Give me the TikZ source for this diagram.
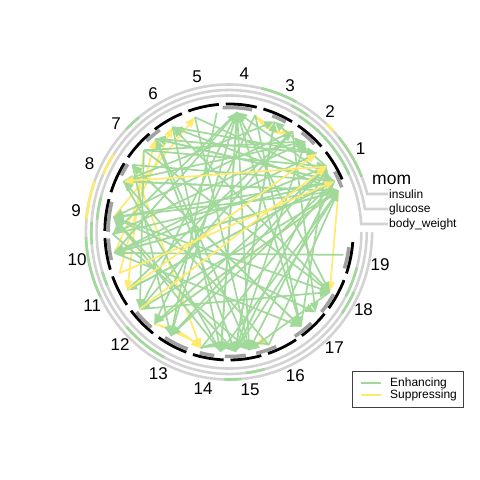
\documentclass[tikz,border=0pt]{standalone}
\usepackage{fontspec}
\setmainfont{Liberation Sans}
\usetikzlibrary{arrows.meta}
\definecolor{enhgreen}{RGB}{161,217,155}
\definecolor{supyellow}{RGB}{255,234,110}
\definecolor{ringgray}{RGB}{211,211,211}
\definecolor{bandgray}{RGB}{160,160,160}

\begin{document}
\begin{tikzpicture}[x=1pt,y=1pt]
\tikzset{enh/.style = {-{Triangle[length=10pt,width=8pt]}, draw=enhgreen, fill=enhgreen, line width=1.7pt}}
\tikzset{sup/.style = {-{Triangle[length=10pt,width=8pt]}, draw=supyellow, fill=supyellow, line width=1.7pt}}
\tikzset{ring/.style = {draw=ringgray, line width=2.6pt}}
\tikzset{chrom/.style = {draw=black, line width=2.8pt}}
\tikzset{chrlab/.style = {font=\fontsize{17}{20}\selectfont}}
\tikzset{trait/.style = {anchor=west, inner sep=1pt, font=\fontsize{12}{14}\selectfont}}

\useasboundingbox (0,0) rectangle (480,480);

\node[anchor=west, inner sep=1pt, font=\fontsize{17.5}{20}\selectfont] (mom) at (371,300) {mom};
\node[trait] (insLab) at (388,286) {insulin};
\node[trait] (gluLab) at (388,271) {glucose};
\node[trait] (bwLab) at (388,256) {body\_weight};

\begin{scope}[shift={(229,248)}, xscale=0.97]
% trait rings
\draw[ring] (360:147.5) arc[start angle=360, end angle=14.93, radius=147.5] -- (insLab.west);
\draw[ring] (360:142) arc[start angle=360, end angle=9.32, radius=142] -- (gluLab.west);
\draw[ring] (360:136.5) arc[start angle=360, end angle=3.36, radius=136.5] -- (bwLab.west);

\foreach \r/\a/\b/\c in {147.5/62/77/enhgreen, 147.5/43/47/supyellow, 147.5/22/40/enhgreen,
  147.5/129/136/enhgreen, 147.5/160/175/supyellow, 147.5/182/206/enhgreen, 147.5/268/275/enhgreen,
  142/55/63/enhgreen, 142/147/156/supyellow, 142/176/185/enhgreen, 142/222/242/enhgreen,
  142/277/285/enhgreen, 142/325/335/enhgreen,
  136.5/25/58/enhgreen, 136.5/165/175/enhgreen, 136.5/197/203/enhgreen, 136.5/332/345/enhgreen}
  {\draw[line width=2.6pt, draw=\c] (\a:\r) arc[start angle=\a, end angle=\b, radius=\r];}

% chromosomes
\foreach \a/\b in {21/29, 45/53, 62/69, 79/93, 125/133, 147/153, 166/180, 183/193, 220/230,
  238/250, 256/263, 268/278, 283/293, 303/313, 320/330, 343/353}
  {\draw[draw=bandgray, line width=3.5pt] (\a:124.5) arc[start angle=\a, end angle=\b, radius=124.5];}

\foreach \i in {1,...,19} {
  \pgfmathsetmacro{\t}{31.5+(\i-1)*17.6}
  \draw[chrom] ({\t-7.2}:128) arc[start angle=\t-7.2, end angle=\t+7.2, radius=128];
  \node[chrlab] (c\i) at (\t:159) {\i};
}

\foreach \n/\a in {p1/20, p2/25, p3/33, p4/41, p5/49, p6/57, p7/67, p8/77, p9/86, p10/96,
  p11/107, p12/119, p13/129, p14/137, p15/146, p16/155, p17/164, p18/173, p19/181, p20/190,
  p21/200, p22/209, p23/220, p24/230, p25/240, p26/256, p27/266, p28/273, p29/280, p30/290,
  p31/308, p32/318, p33/330, p34/349}
  {\coordinate (\n) at (\a:120);}
\end{scope}

% links
\foreach \s/\t in {p24/p1, p21/p13, p20/p12, p14/p22, p15/p26, p1/p33, p18/p11}
  {\draw[sup] (\s) -- (\t);}
\draw[sup] (p29) to[bend left=40] (p30);
\draw[sup] (p8) to[bend right=35] (p6);
\draw[sup] (p24) to[bend left=15] (p26);

\foreach \s/\t in {p16/p1, p18/p1, p20/p1, p24/p1, p28/p1, p30/p1,
  p11/p2, p13/p2, p15/p2, p19/p2, p22/p2, p26/p2,
  p14/p3, p25/p3, p31/p3,
  p2/p9, p20/p9, p23/p9, p25/p9, p27/p9, p29/p9, p31/p9,
  p3/p7, p16/p7, p28/p7,
  p14/p5, p19/p5, p28/p5,
  p12/p4, p20/p4,
  p22/p6,
  p1/p12, p33/p12,
  p2/p13, p4/p13, p29/p13,
  p1/p16, p5/p16, p30/p16,
  p31/p15,
  p2/p18, p6/p18, p33/p18, p27/p18,
  p34/p20, p1/p20, p3/p20,
  p9/p19,
  p2/p22,
  p1/p23, p6/p23, p14/p23,
  p3/p24, p8/p24,
  p2/p25, p10/p25, p15/p25,
  p1/p27, p9/p27, p12/p27, p16/p27,
  p3/p28, p7/p28, p13/p28, p18/p28,
  p2/p29, p11/p29, p19/p29, p33/p29,
  p8/p31, p15/p31, p20/p31,
  p6/p32, p18/p32,
  p9/p33, p14/p33, p23/p33}
  {\draw[enh] (\s) -- (\t);}
\draw[enh] (p26) to[bend left=35] (p28);
\draw[enh] (p30) to[bend right=35] (p29);

\foreach \s/\t in {p23/p3, p22/p4, p21/p2, p3/p16}
  {\draw[sup] (\s) -- (\t);}

% legend
\draw[draw=black!75, line width=0.8pt] (352,73) rectangle (463,109);
\node[trait, anchor=west] (lgEnh) at (389,97) {Enhancing};
\node[trait, anchor=west] (lgSup) at (389,85) {Suppressing};
\draw[draw=enhgreen, line width=1.8pt] (361,97) -- (381,97);
\draw[draw=supyellow, line width=1.8pt] (361,85) -- (381,85);
\end{tikzpicture}
\end{document}
